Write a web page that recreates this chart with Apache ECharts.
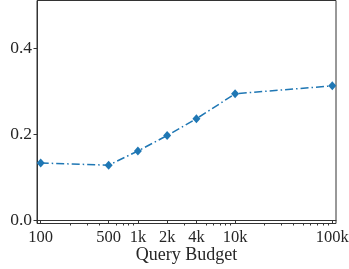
<!DOCTYPE html>
<html>
<head>
<meta charset="utf-8">
<script src="https://cdn.jsdelivr.net/npm/echarts@6/dist/echarts.min.js"></script>
<style>html,body{margin:0;padding:0;background:#fff}#c{width:349px;height:269px}</style>
</head>
<body>
<div id="c"></div>
<script>
const budgets = [100, 500, 1000, 2000, 4000, 10000, 100000];
const budgetLabels = ['100', '500', '1k', '2k', '4k', '10k', '100k'];
const scores = [0.133, 0.128, 0.161, 0.197, 0.236, 0.294, 0.3125];
const minorTicks = [200, 300, 400, 600, 700, 800, 900, 3000, 5000, 6000, 7000, 8000, 9000,
  20000, 30000, 40000, 50000, 60000, 70000, 80000, 90000];
const yTicks = [0, 0.2, 0.4];

const chart = echarts.init(document.getElementById('c'), null, {renderer: 'canvas'});
const font = "'Liberation Serif', 'DejaVu Serif', serif";
const txt = '#262626';
chart.setOption({
  animation: false,
  grid: {left: 37, right: 13, top: 0.5, bottom: 45.5, outerBoundsMode: 'none', containLabel: false,
    show: true, borderColor: '#333', borderWidth: 1, backgroundColor: 'transparent'},
  xAxis: [{
    type: 'log', min: 91.6, max: 109200, logBase: 10,
    name: 'Query Budget', nameLocation: 'middle', nameGap: 23, nameMoveOverlap: false,
    nameTextStyle: {fontFamily: font, fontSize: 18, color: txt},
    axisLine: {show: true, lineStyle: {color: '#333', width: 1}},
    axisTick: {show: true, length: 3.5, inside: false, customValues: budgets, lineStyle: {color: '#333'}},
    axisLabel: {customValues: budgets, margin: 6, fontFamily: font, fontSize: 16.5, color: txt,
      formatter: v => { let i = 0, best = Infinity; budgets.forEach((b, k) => { const d = Math.abs(Math.log10(b) - Math.log10(v)); if (d < best) { best = d; i = k; } }); return budgetLabels[i]; }},
    splitLine: {show: false}, minorTick: {show: false}
  }, {
    type: 'log', min: 91.6, max: 109200, logBase: 10, position: 'bottom', offset: 0,
    axisLine: {show: false},
    axisTick: {show: true, length: 2, customValues: minorTicks, lineStyle: {color: '#333'}},
    axisLabel: {show: false, customValues: minorTicks},
    splitLine: {show: false}
  }],
  yAxis: {
    type: 'value', min: -0.0077, max: 0.511,
    axisLine: {show: true, lineStyle: {color: '#333', width: 1}},
    axisTick: {show: true, length: 3.5, customValues: yTicks, lineStyle: {color: '#333'}},
    axisLabel: {customValues: yTicks, margin: 5, fontFamily: font, fontSize: 17.5, color: txt,
      formatter: v => v.toFixed(1)},
    splitLine: {show: false}
  },
  series: [{
    type: 'line', xAxisIndex: 0,
    data: budgets.map((b, i) => [b, scores[i]]),
    symbol: 'diamond', symbolSize: [8, 9],
    itemStyle: {color: '#1f77b4'},
    lineStyle: {color: '#1f77b4', width: 1.5, type: [8, 3, 1.5, 3]}
  }]
});
</script>
</body>
</html>
